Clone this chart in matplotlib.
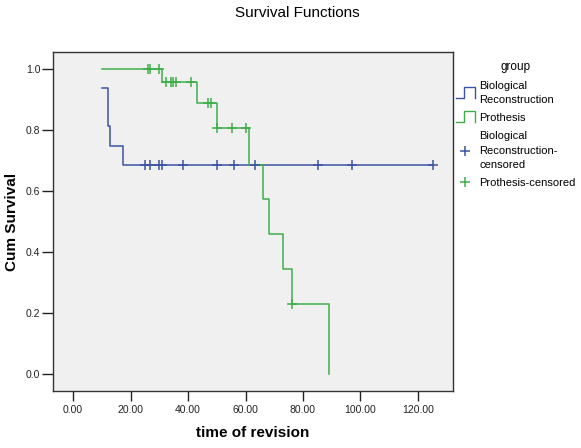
import matplotlib
matplotlib.use("Agg")
import matplotlib.pyplot as plt
from matplotlib.legend_handler import HandlerBase
from matplotlib.lines import Line2D

plt.rcParams['font.family'] = ['Liberation Sans', 'DejaVu Sans']

# Kaplan-Meier steps
bio_t = [10.2, 12.1, 13.0, 17.2, 125.3]
bio_s = [0.9375, 0.8125, 0.75, 0.6875, 0.6875]
pro_t = [10.2, 31.1, 43.0, 50.0, 61.1, 66.0, 68.0, 73.0, 76.1, 89.0]
pro_s = [1.0, 0.957, 0.889, 0.806, 0.687, 0.576, 0.461, 0.346, 0.230, 0.0]

# censored observations
bio_cens_t = [25.0, 26.8, 29.9, 31.0, 38.1, 50.0, 56.0, 63.3, 85.1, 97.1, 125.3]
bio_cens_s = [0.6875, 0.6875, 0.6875, 0.6875, 0.6875, 0.6875, 0.6875, 0.6875, 0.6875, 0.6875, 0.6875]
pro_cens_t = [26.0, 26.8, 29.9, 32.4, 34.1, 34.9, 35.7, 41.0, 46.8, 47.9, 50.0, 55.2, 60.1, 76.1]
pro_cens_s = [1.0, 1.0, 1.0, 0.957, 0.957, 0.957, 0.957, 0.957, 0.889, 0.889, 0.806, 0.806, 0.806, 0.230]

x_ticks = [0, 20, 40, 60, 80, 100, 120]
y_ticks = [0.0, 0.2, 0.4, 0.6, 0.8, 1.0]

labels = ['Biological\nReconstruction', 'Prothesis',
          'Biological\nReconstruction-\ncensored', 'Prothesis-censored']

blue = '#3c54a3'
green = '#3fae4a'


class StepHandler(HandlerBase):
    # small step glyph like the SPSS legend
    def create_artists(self, legend, orig_handle, xdescent, ydescent,
                       width, height, fontsize, trans):
        x0, y0 = -xdescent, -ydescent
        xs = [x0, x0 + 0.4 * width, x0 + 0.4 * width, x0 + width, x0 + width]
        ys = [y0 - 0.1 * height, y0 - 0.1 * height, y0 + 1.3 * height,
              y0 + 1.3 * height, y0 - 0.1 * height]
        ln = Line2D(xs, ys, color=orig_handle.get_color(), lw=1.0)
        ln.set_transform(trans)
        return [ln]


fig = plt.figure(figsize=(5.81, 4.48), dpi=100)
ax = fig.add_axes([0.0912, 0.1272, 0.6885, 0.7567])
ax.set_facecolor('#f0f0f0')

l1, = ax.step(bio_t, bio_s, where='post', color=blue, lw=1.1)
l2, = ax.step(pro_t, pro_s, where='post', color=green, lw=1.1)
c1, = ax.plot(bio_cens_t, bio_cens_s, '+', color=blue, ms=6.5, mew=1.1)
c2, = ax.plot(pro_cens_t, pro_cens_s, '+', color=green, ms=6.5, mew=1.1)

ax.set_xlim(-7, 132.2)
ax.set_ylim(-0.056, 1.057)
ax.set_xticks(x_ticks)
ax.set_xticklabels(['%.2f' % v for v in x_ticks])
ax.set_yticks(y_ticks)
ax.set_yticklabels(['%.1f' % v for v in y_ticks])
ax.tick_params(axis='x', length=7, width=1, labelsize=7.5, pad=3, colors='#222222')
ax.tick_params(axis='y', length=8, width=1, labelsize=7.5, pad=1, colors='#222222')
for sp in ax.spines.values():
    sp.set_color('#333333')
    sp.set_linewidth(1.0)

ax.set_xlabel('time of revision', fontsize=11, fontweight='bold', labelpad=8)
ax.set_ylabel('Cum Survival', fontsize=11, fontweight='bold', labelpad=5)
fig.text(0.511, 0.972, 'Survival Functions', ha='center', va='center', fontsize=11)

leg = fig.legend([l1, l2, c1, c2], labels, loc='upper left',
                 bbox_to_anchor=(446 / 581, 1 - 51 / 448), frameon=False,
                 fontsize=8, title='group', title_fontsize=8.5,
                 handler_map={l1: StepHandler(), l2: StepHandler()},
                 handlelength=1.7, handletextpad=0.4, labelspacing=0.7)
for t in leg.get_texts():
    t.set_linespacing(1.58)

fig.savefig('out.png', dpi=100)
